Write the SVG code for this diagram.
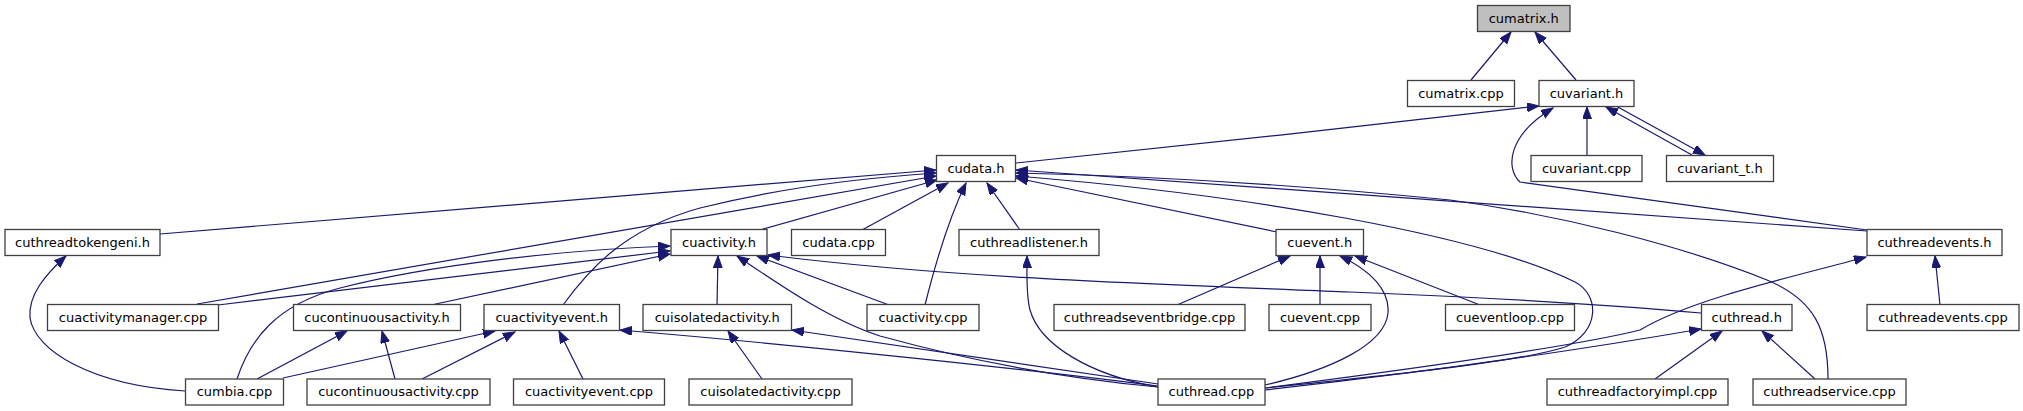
<svg xmlns="http://www.w3.org/2000/svg" width="2023" height="411" viewBox="0 0 2023 411">
<style>
.n rect{fill:#ffffff;stroke:#404040;stroke-width:1.3}
.n text{font-family:"DejaVu Sans","Liberation Sans",sans-serif;font-size:13px;fill:#000;text-anchor:middle}
.root rect{fill:#bfbfbf}
#edges path{fill:none;stroke:#191970;stroke-width:1.2;marker-end:url(#ah)}
</style>
<defs>
<marker id="ah" markerUnits="userSpaceOnUse" markerWidth="14" markerHeight="10" refX="12" refY="4.5" orient="auto">
<path d="M0,0 L12,4.5 L0,9 z" fill="#191970" stroke="#191970" stroke-width="1"/>
</marker>
</defs>
<rect width="2023" height="411" fill="#ffffff"/>
<g id="edges">
<path d="M1471,80 L1511,32"/>
<path d="M1576,80 L1535,32"/>
<path d="M1016,163 C1150,150 1400,122 1539,106"/>
<path d="M1587,155 L1587,107"/>
<path d="M1692,155 L1606,107"/>
<path d="M1616,106 L1705,155"/>
<path d="M1867,230 L1520,182 C1505,168 1508,135 1553,108"/>
<path d="M160,234 L936,170"/>
<path d="M197,304 L936,176"/>
<path d="M563,305 C585,275 620,230 700,208 C780,188 860,178 936,173"/>
<path d="M760,230 L937,180"/>
<path d="M862,230 L948,183"/>
<path d="M925,305 C935,265 948,220 966,183"/>
<path d="M1020,230 L987,183"/>
<path d="M1277,232 L1016,178"/>
<path d="M1867,231 L1016,170"/>
<path d="M1828,379 C1828,330 1815,300 1767,280 C1680,245 1560,215 1450,200 C1300,185 1150,176 1016,173"/>
<path d="M1265,388 C1380,376 1520,362 1565,347 C1600,332 1600,295 1575,282 C1480,235 1250,195 1016,176"/>
<path d="M218,305 L670,251"/>
<path d="M237,379 C250,340 275,305 340,288 C430,265 560,250 670,246"/>
<path d="M431,305 L670,254"/>
<path d="M717,305 L718,256"/>
<path d="M889,305 L757,256"/>
<path d="M1158,387 C1060,378 960,358 880,336 C830,320 780,285 737,256"/>
<path d="M1701,313 C1600,304 1500,298 1350,292 C1150,284 950,278 768,255"/>
<path d="M185,391 C90,385 35,350 30,318 C28,295 45,275 66,256"/>
<path d="M257,379 L347,331"/>
<path d="M395,379 L382,331"/>
<path d="M283,378 L495,331"/>
<path d="M422,379 L515,332"/>
<path d="M583,379 L559,331"/>
<path d="M1158,386 C1050,372 800,345 620,330"/>
<path d="M762,379 L728,331"/>
<path d="M1158,384 L792,330"/>
<path d="M1158,387 C1090,375 1040,345 1030,310 C1026,295 1027,275 1027,256"/>
<path d="M1177,305 L1290,256"/>
<path d="M1320,305 L1320,256"/>
<path d="M1265,385 C1330,370 1385,345 1388,313 C1390,290 1370,270 1340,256"/>
<path d="M1480,305 L1355,256"/>
<path d="M1265,388 C1420,368 1580,345 1640,330 C1690,300 1780,280 1866,257"/>
<path d="M1940,305 L1935,256"/>
<path d="M1265,390 C1400,375 1550,355 1701,329"/>
<path d="M1655,379 L1722,331"/>
<path d="M1815,379 L1762,331"/>
</g>
<g id="n_cumatrix_h" class="n root"><rect x="1477.5" y="5.5" width="92.5" height="26"/><text x="1523.75" y="22.5">cumatrix.h</text></g>
<g id="n_cumatrix_cpp" class="n"><rect x="1407.5" y="80.5" width="107" height="26"/><text x="1461" y="97.5">cumatrix.cpp</text></g>
<g id="n_cuvariant_h" class="n"><rect x="1539" y="80.5" width="95" height="26"/><text x="1586.5" y="97.5">cuvariant.h</text></g>
<g id="n_cudata_h" class="n"><rect x="936.5" y="155.5" width="79" height="26"/><text x="976" y="172.5">cudata.h</text></g>
<g id="n_cuvariant_cpp" class="n"><rect x="1531" y="155.5" width="111" height="26"/><text x="1586.5" y="172.5">cuvariant.cpp</text></g>
<g id="n_cuvariant_t_h" class="n"><rect x="1666.5" y="155.5" width="107" height="26"/><text x="1720" y="172.5">cuvariant_t.h</text></g>
<g id="n_cuthreadtokengeni_h" class="n"><rect x="5" y="229.5" width="155" height="26"/><text x="82.5" y="246.5">cuthreadtokengeni.h</text></g>
<g id="n_cuactivity_h" class="n"><rect x="671" y="229.5" width="96" height="26"/><text x="719" y="246.5">cuactivity.h</text></g>
<g id="n_cudata_cpp" class="n"><rect x="791.5" y="229.5" width="94" height="26"/><text x="838.5" y="246.5">cudata.cpp</text></g>
<g id="n_cuthreadlistener_h" class="n"><rect x="959" y="229.5" width="140" height="26"/><text x="1029" y="246.5">cuthreadlistener.h</text></g>
<g id="n_cuevent_h" class="n"><rect x="1276" y="229.5" width="87.5" height="26"/><text x="1319.75" y="246.5">cuevent.h</text></g>
<g id="n_cuthreadevents_h" class="n"><rect x="1867" y="229.5" width="135" height="26"/><text x="1934.5" y="246.5">cuthreadevents.h</text></g>
<g id="n_cuactivitymanager_cpp" class="n"><rect x="47.5" y="304.5" width="171" height="26"/><text x="133" y="321.5">cuactivitymanager.cpp</text></g>
<g id="n_cucontinuousactivity_h" class="n"><rect x="293.5" y="304.5" width="167" height="26"/><text x="377" y="321.5">cucontinuousactivity.h</text></g>
<g id="n_cuactivityevent_h" class="n"><rect x="484" y="304.5" width="135.5" height="26"/><text x="551.75" y="321.5">cuactivityevent.h</text></g>
<g id="n_cuisolatedactivity_h" class="n"><rect x="643" y="304.5" width="148.5" height="26"/><text x="717.25" y="321.5">cuisolatedactivity.h</text></g>
<g id="n_cuactivity_cpp" class="n"><rect x="867" y="304.5" width="112" height="26"/><text x="923" y="321.5">cuactivity.cpp</text></g>
<g id="n_cuthreadseventbridge_cpp" class="n"><rect x="1054" y="304.5" width="191" height="26"/><text x="1149.5" y="321.5">cuthreadseventbridge.cpp</text></g>
<g id="n_cuevent_cpp" class="n"><rect x="1269" y="304.5" width="102" height="26"/><text x="1320" y="321.5">cuevent.cpp</text></g>
<g id="n_cueventloop_cpp" class="n"><rect x="1445.5" y="304.5" width="129" height="26"/><text x="1510" y="321.5">cueventloop.cpp</text></g>
<g id="n_cuthread_h" class="n"><rect x="1701.5" y="304.5" width="90.5" height="26"/><text x="1746.75" y="321.5">cuthread.h</text></g>
<g id="n_cuthreadevents_cpp" class="n"><rect x="1867" y="304.5" width="152" height="26"/><text x="1943" y="321.5">cuthreadevents.cpp</text></g>
<g id="n_cumbia_cpp" class="n"><rect x="185.5" y="379" width="98" height="26"/><text x="234.5" y="396">cumbia.cpp</text></g>
<g id="n_cucontinuousactivity_cpp" class="n"><rect x="307" y="379" width="183" height="26"/><text x="398.5" y="396">cucontinuousactivity.cpp</text></g>
<g id="n_cuactivityevent_cpp" class="n"><rect x="513.5" y="379" width="151" height="26"/><text x="589" y="396">cuactivityevent.cpp</text></g>
<g id="n_cuisolatedactivity_cpp" class="n"><rect x="689" y="379" width="163" height="26"/><text x="770.5" y="396">cuisolatedactivity.cpp</text></g>
<g id="n_cuthread_cpp" class="n"><rect x="1158" y="379" width="107" height="26"/><text x="1211.5" y="396">cuthread.cpp</text></g>
<g id="n_cuthreadfactoryimpl_cpp" class="n"><rect x="1547" y="379" width="181" height="26"/><text x="1637.5" y="396">cuthreadfactoryimpl.cpp</text></g>
<g id="n_cuthreadservice_cpp" class="n"><rect x="1753" y="379" width="153" height="26"/><text x="1829.5" y="396">cuthreadservice.cpp</text></g>
</svg>
